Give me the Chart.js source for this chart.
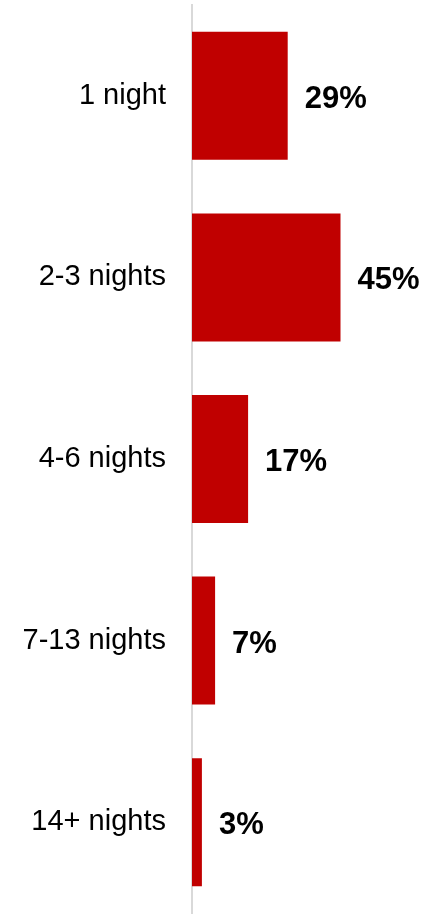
<!DOCTYPE html>
<html>
<head>
<meta charset="utf-8">
<script src="https://cdn.jsdelivr.net/npm/chart.js@4"></script>
<style>
  html, body { margin: 0; padding: 0; background: #fff; }
  #wrap { width: 426px; height: 917px; position: relative; }
</style>
</head>
<body>
<div id="wrap"><canvas id="nightsChart"></canvas></div>
<script>
const categories = ['1 night', '2-3 nights', '4-6 nights', '7-13 nights', '14+ nights'];
const shares = [29, 45, 17, 7, 3];
const valueLabels = ['29%', '45%', '17%', '7%', '3%'];

const FONT = "'Liberation Sans', Arial, sans-serif";

// bold percentage next to each bar
const valueLabelPlugin = {
  id: 'valueLabels',
  afterDatasetsDraw(chart) {
    const ctx = chart.ctx;
    const meta = chart.getDatasetMeta(0);
    ctx.save();
    ctx.font = 'bold 31px ' + FONT;
    ctx.fillStyle = '#000';
    ctx.textAlign = 'left';
    ctx.textBaseline = 'alphabetic';
    meta.data.forEach((bar, i) => {
      ctx.fillText(valueLabels[i], bar.x + 17, bar.y + 12);
    });
    ctx.restore();
  }
};

new Chart(document.getElementById('nightsChart'), {
  type: 'bar',
  data: {
    labels: categories,
    datasets: [{
      data: shares,
      backgroundColor: '#C00000',
      borderWidth: 0,
      barPercentage: 0.705,
      categoryPercentage: 1
    }]
  },
  options: {
    indexAxis: 'y',
    responsive: true,
    maintainAspectRatio: false,
    animation: false,
    layout: { padding: { top: 5, bottom: 4, left: 0, right: 3 } },
    plugins: {
      legend: { display: false },
      tooltip: { enabled: false }
    },
    scales: {
      x: {
        display: false,
        min: 0,
        max: 70
      },
      y: {
        afterFit: s => {
          s.width = 192;
          s.paddingTop = 0;
          s.paddingBottom = 0;
        },
        grid: { display: true, drawOnChartArea: false, drawTicks: false },
        border: { display: true, color: '#d9d9d9', width: 2 },
        ticks: {
          padding: 26,
          color: '#000',
          font: { family: FONT, size: 29 }
        }
      }
    }
  },
  plugins: [valueLabelPlugin]
});
</script>
</body>
</html>
